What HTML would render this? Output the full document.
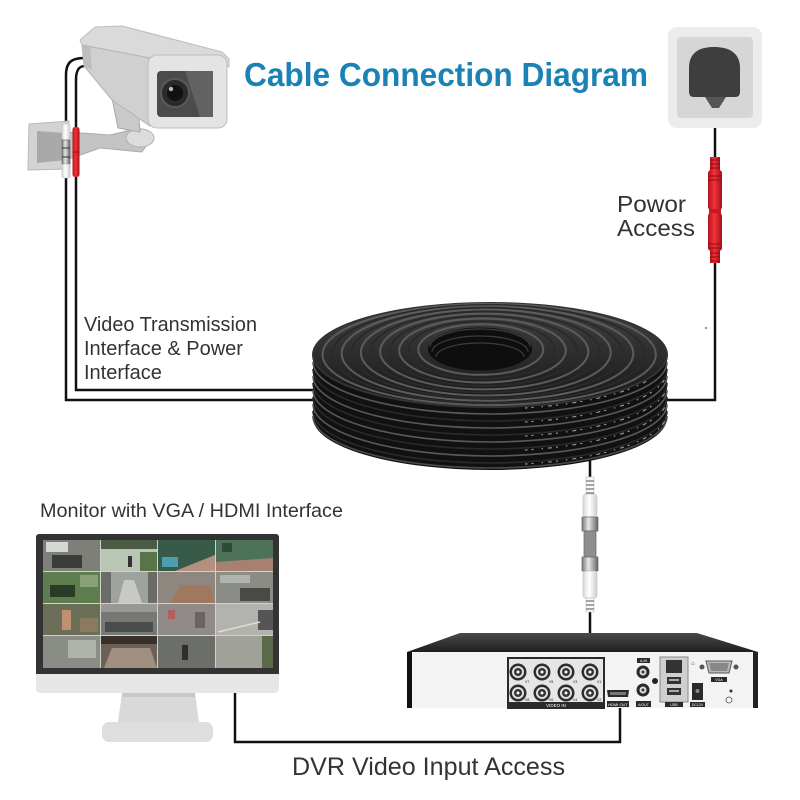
<!DOCTYPE html>
<html><head><meta charset="utf-8"><style>html,body{margin:0;padding:0;background:#fff}svg{display:block}</style></head>
<body>
<svg width="800" height="800" viewBox="0 0 800 800" xmlns="http://www.w3.org/2000/svg" font-family="Liberation Sans, sans-serif">
<defs>
 <linearGradient id="coilTop" x1="0" y1="0" x2="0" y2="1"><stop offset="0" stop-color="#444"/><stop offset="1" stop-color="#151515"/></linearGradient>
 <linearGradient id="lid" x1="0" y1="0" x2="0" y2="1"><stop offset="0" stop-color="#4a4a4a"/><stop offset="1" stop-color="#1e1e1e"/></linearGradient>
 <linearGradient id="metal" x1="0" y1="0" x2="1" y2="0"><stop offset="0" stop-color="#777"/><stop offset="0.4" stop-color="#e8e8e8"/><stop offset="1" stop-color="#666"/></linearGradient>
 <linearGradient id="redg" x1="0" y1="0" x2="1" y2="0"><stop offset="0" stop-color="#b5121b"/><stop offset="0.45" stop-color="#f0333b"/><stop offset="1" stop-color="#a8101a"/></linearGradient>
 <linearGradient id="whiteg" x1="0" y1="0" x2="1" y2="0"><stop offset="0" stop-color="#d8d8d8"/><stop offset="0.45" stop-color="#ffffff"/><stop offset="1" stop-color="#cfcfcf"/></linearGradient>
 <clipPath id="mk"><rect x="525" y="380" width="140" height="100"/></clipPath>
</defs>

<!-- Title -->
<text x="244" y="86" font-size="33" font-weight="bold" fill="#1a82b5" textLength="404" lengthAdjust="spacingAndGlyphs">Cable Connection Diagram</text>

<!-- Connection wires -->
<g fill="none" stroke="#111" stroke-width="2.5">
 <path d="M84,58 C72,58 66,62 66,75 L66,400 L314,400"/>
 <path d="M85,66 C79,66 76,70 76,80 L76,390 L314,390"/>
 <path d="M715,108 L715,400 L667,400"/>
 <path d="M590,460 L590,668"/>
 <path d="M235,693 L235,742 L620,742 L620,700"/>
</g>

<!-- Camera -->
<g>
 <polygon points="29,124 69,121 70,169 28,170" fill="#d3d3d3" stroke="#b8b8b8"/>
 <polygon points="37,131 66,133 66,160 37,163" fill="#a9a9a9"/>
 <polygon points="66,132 110,135 140,128 150,140 142,152 100,148 66,160" fill="#c4c4c4" stroke="#aaa"/>
 <ellipse cx="140" cy="138" rx="14" ry="9" fill="#dcdcdc" stroke="#b0b0b0"/>
 <polygon points="112,98 138,104 140,132 118,128" fill="#c9c9c9" stroke="#aaa"/>
 <polygon points="95,27 122,26 222,52 229,59 229,67 150,58 82,45 80,40" fill="#dadada" stroke="#bdbdbd"/>
 <polygon points="82,45 160,60 160,122 150,126 112,100 84,66" fill="#d0d0d0" stroke="#b5b5b5"/>
 <polygon points="82,45 90,47 92,70 84,66" fill="#bdbdbd"/>
 <rect x="148" y="55" width="79" height="73" rx="9" fill="#e4e4e4" stroke="#bcbcbc"/>
 <rect x="157" y="71" width="56" height="46" rx="4" fill="#4b4b4b"/>
 <polygon points="185,71 213,71 213,117 200,117" fill="#626262"/>
 <circle cx="175" cy="93" r="14" fill="#2a2a2a" stroke="#5a5a5a" stroke-width="2"/>
 <circle cx="175" cy="93" r="8" fill="#111"/>
 <circle cx="171" cy="89" r="2.2" fill="#bbb"/>
</g>
<!-- camera wire connectors -->
<rect x="62" y="124" width="8" height="16" rx="2" fill="url(#whiteg)" stroke="#bbb" stroke-width="0.6"/>
<rect x="62" y="140" width="8" height="24" fill="url(#metal)" stroke="#666" stroke-width="0.6"/>
<line x1="62" y1="148" x2="70" y2="148" stroke="#333"/>
<line x1="62" y1="157" x2="70" y2="157" stroke="#333"/>
<rect x="62" y="164" width="8" height="14" rx="2" fill="url(#whiteg)" stroke="#bbb" stroke-width="0.6"/>
<rect x="72.5" y="127" width="7" height="50" rx="2.5" fill="url(#redg)"/>
<line x1="72.5" y1="152" x2="79.5" y2="152" stroke="#9a0e16"/>

<!-- Power outlet -->
<rect x="668" y="27" width="94" height="101" rx="9" fill="#ececec"/>
<rect x="677" y="37" width="76" height="81" rx="4" fill="#d6d6d6"/>
<path d="M689,92 L689,68 C689,52 700,47 714,47 C728,47 740,52 740,68 L740,92 Q740,97 735,97 L694,97 Q689,97 689,92 Z" fill="#3e3e3e"/>
<polygon points="705,97 726,97 719,108 712,108" fill="#555"/>
<!-- Power red connector -->
<g>
 <rect x="710" y="157" width="10" height="14" fill="url(#redg)"/>
 <rect x="708" y="170" width="14" height="40" rx="3" fill="url(#redg)"/>
 <rect x="709" y="209" width="12" height="5" fill="#c51a22"/>
 <rect x="708" y="213" width="14" height="38" rx="3" fill="url(#redg)"/>
 <rect x="710" y="250" width="10" height="13" fill="url(#redg)"/>
 <g stroke="#8a0c12" stroke-width="1">
  <line x1="710" y1="160" x2="720" y2="160"/><line x1="710" y1="164" x2="720" y2="164"/><line x1="710" y1="168" x2="720" y2="168"/>
  <line x1="708" y1="176" x2="722" y2="176"/><line x1="708" y1="180" x2="722" y2="180"/>
  <line x1="708" y1="244" x2="722" y2="244"/><line x1="708" y1="248" x2="722" y2="248"/>
  <line x1="710" y1="253" x2="720" y2="253"/><line x1="710" y1="257" x2="720" y2="257"/><line x1="710" y1="261" x2="720" y2="261"/>
 </g>
</g>
<circle cx="706" cy="328" r="1" fill="#777"/>

<!-- Labels -->
<g fill="#333">
 <text x="617" y="212" font-size="23" textLength="69" lengthAdjust="spacingAndGlyphs">Powor</text>
 <text x="617" y="236" font-size="23" textLength="78" lengthAdjust="spacingAndGlyphs">Access</text>
 <text x="84" y="331" font-size="20" textLength="173" lengthAdjust="spacingAndGlyphs">Video Transmission</text>
 <text x="84" y="355" font-size="20">Interface &amp; Power</text>
 <text x="84" y="379" font-size="20">Interface</text>
 <text x="40" y="517" font-size="19.5" textLength="303" lengthAdjust="spacingAndGlyphs">Monitor with VGA / HDMI Interface</text>
 <text x="292" y="775" font-size="25" textLength="273" lengthAdjust="spacingAndGlyphs">DVR Video Input Access</text>
</g>

<!-- Cable coil -->
<g>
 <ellipse cx="490" cy="418" rx="177" ry="52" fill="#111"/>
 <rect x="313" y="355" width="354" height="63" fill="#111"/>
 <g fill="none" stroke-width="1.6">
  <path d="M313,362 A177,52 0 0 0 667,362" stroke="#5a5a5a"/>
  <path d="M313,369 A177,52 0 0 0 667,369" stroke="#2a2a2a"/>
  <path d="M313,376 A177,52 0 0 0 667,376" stroke="#5a5a5a"/>
  <path d="M313,383 A177,52 0 0 0 667,383" stroke="#2a2a2a"/>
  <path d="M313,390 A177,52 0 0 0 667,390" stroke="#5a5a5a"/>
  <path d="M313,397 A177,52 0 0 0 667,397" stroke="#2a2a2a"/>
  <path d="M313,404 A177,52 0 0 0 667,404" stroke="#5a5a5a"/>
  <path d="M313,411 A177,52 0 0 0 667,411" stroke="#2a2a2a"/>
  <path d="M313,416 A177,52 0 0 0 667,416" stroke="#4a4a4a"/>
 </g>
 <g fill="none" stroke="#a8a8a8" stroke-width="1" stroke-dasharray="1.5 5 4 4 2 8" clip-path="url(#mk)">
  <path d="M313,357 A177,52 0 0 0 667,357"/>
  <path d="M313,371 A177,52 0 0 0 667,371"/>
  <path d="M313,385 A177,52 0 0 0 667,385"/>
  <path d="M313,399 A177,52 0 0 0 667,399"/>
  <path d="M313,413 A177,52 0 0 0 667,413"/>
 </g>
 <ellipse cx="490" cy="355" rx="177" ry="52" fill="url(#coilTop)"/>
 <g fill="none" stroke-width="2">
  <ellipse cx="490" cy="355" rx="177" ry="52" stroke="#333"/>
  <ellipse cx="489.2" cy="354.5" rx="166.6" ry="50.6" stroke="#5c5c5c"/>
  <ellipse cx="488.3" cy="354" rx="156.1" ry="49" stroke="#2a2a2a"/>
  <ellipse cx="487.5" cy="353.5" rx="145.8" ry="47.2" stroke="#5c5c5c"/>
  <ellipse cx="486.7" cy="353" rx="135.3" ry="45.2" stroke="#2a2a2a"/>
  <ellipse cx="485.8" cy="352.5" rx="124.9" ry="43" stroke="#5c5c5c"/>
  <ellipse cx="485" cy="352" rx="114.5" ry="40.5" stroke="#2a2a2a"/>
  <ellipse cx="484.2" cy="351.5" rx="104.1" ry="37.9" stroke="#5c5c5c"/>
  <ellipse cx="483.3" cy="351" rx="93.6" ry="35" stroke="#2a2a2a"/>
  <ellipse cx="482.5" cy="350.5" rx="83.3" ry="32" stroke="#5c5c5c"/>
  <ellipse cx="481.7" cy="350" rx="72.9" ry="28.7" stroke="#2a2a2a"/>
  <ellipse cx="480.8" cy="349.5" rx="62.5" ry="25.3" stroke="#5c5c5c"/>
 </g>
 <ellipse cx="480" cy="349" rx="52" ry="21.5" fill="#0e0e0e"/>
 <g fill="none" stroke="#3c3c3c" stroke-width="1.2">
  <path d="M430,347 A50,18 0 0 1 530,347"/>
  <path d="M432,352 A48,16 0 0 1 528,352"/>
  <path d="M436,357 A44,14 0 0 1 524,357"/>
 </g>
</g>

<!-- BNC assembly -->
<g>
 <rect x="586" y="477" width="8" height="18" fill="#f8f8f8" stroke="#bbb" stroke-width="0.6"/>
 <g stroke="#555" stroke-width="1"><line x1="586" y1="481" x2="594" y2="481"/><line x1="586" y1="485" x2="594" y2="485"/><line x1="586" y1="489" x2="594" y2="489"/><line x1="586" y1="493" x2="594" y2="493"/></g>
 <rect x="583" y="494" width="14" height="23" rx="3" fill="url(#whiteg)" stroke="#c6c6c6" stroke-width="0.7"/>
 <rect x="582" y="517" width="16" height="14" fill="url(#metal)" stroke="#666" stroke-width="0.7"/>
 <rect x="584" y="531" width="12" height="26" fill="#8e8e8e" stroke="#666" stroke-width="0.7"/>
 <rect x="582" y="557" width="16" height="14" fill="url(#metal)" stroke="#666" stroke-width="0.7"/>
 <rect x="583" y="571" width="14" height="27" rx="3" fill="url(#whiteg)" stroke="#c6c6c6" stroke-width="0.7"/>
 <rect x="586" y="598" width="8" height="14" fill="#f8f8f8" stroke="#bbb" stroke-width="0.6"/>
 <g stroke="#555" stroke-width="1"><line x1="586" y1="601" x2="594" y2="601"/><line x1="586" y1="605" x2="594" y2="605"/><line x1="586" y1="609" x2="594" y2="609"/></g>
</g>

<!-- Monitor -->
<g>
 <rect x="36" y="534" width="243" height="142" rx="3" fill="#333"/>
 <path d="M36,674 L279,674 L279,688 Q279,693 274,693 L41,693 Q36,693 36,688 Z" fill="#e6e6e6"/>
 <polygon points="122,693 195,693 199,722 118,722" fill="#d9d9d9"/>
 <rect x="122" y="693" width="73" height="4" fill="#c8c8c8"/>
 <rect x="102" y="722" width="111" height="20" rx="7" fill="#dedede"/>
 <rect x="43" y="540" width="230" height="128" fill="#cfd3c8"/>
 <!-- tiles row1 -->
 <rect x="43" y="540" width="57" height="31" fill="#7d7f78"/>
 <rect x="46" y="542" width="22" height="10" fill="#d4d8d3"/><rect x="52" y="555" width="30" height="13" fill="#3a3d38"/>
 <rect x="101" y="540" width="56" height="31" fill="#b9c6b5"/>
 <rect x="101" y="540" width="56" height="9" fill="#4c5c44"/><rect x="128" y="556" width="4" height="11" fill="#333"/><rect x="140" y="552" width="17" height="19" fill="#5a7448"/>
 <rect x="158" y="540" width="57" height="31" fill="#385a48"/>
 <polygon points="175,571 215,555 215,571" fill="#b58f80"/><rect x="162" y="557" width="16" height="10" fill="#4a9fb0"/>
 <rect x="216" y="540" width="57" height="31" fill="#4e7258"/>
 <polygon points="216,571 216,562 273,558 273,571" fill="#a88070"/><rect x="222" y="543" width="10" height="9" fill="#2f4a38"/>
 <!-- row2 -->
 <rect x="43" y="572" width="57" height="31" fill="#5f7e50"/>
 <rect x="50" y="585" width="25" height="12" fill="#2c3a28"/><rect x="80" y="575" width="18" height="12" fill="#8aa078"/>
 <rect x="101" y="572" width="56" height="31" fill="#9fa39e"/>
 <polygon points="118,603 124,580 134,580 142,603" fill="#c8c8c4"/><rect x="101" y="572" width="10" height="31" fill="#6a6c68"/><rect x="148" y="572" width="9" height="31" fill="#6a6c68"/>
 <rect x="158" y="572" width="57" height="31" fill="#8e8780"/>
 <polygon points="170,603 180,585 210,585 215,603" fill="#a07860"/>
 <rect x="216" y="572" width="57" height="31" fill="#8c8c86"/>
 <rect x="240" y="588" width="30" height="13" fill="#4a4a44"/><rect x="220" y="575" width="30" height="8" fill="#b0b4ae"/>
 <!-- row3 -->
 <rect x="43" y="604" width="57" height="31" fill="#6b6f5a"/>
 <rect x="62" y="610" width="9" height="20" fill="#c09070"/><rect x="80" y="618" width="18" height="14" fill="#8a7a60"/>
 <rect x="101" y="604" width="56" height="31" fill="#757874"/>
 <rect x="105" y="622" width="48" height="10" fill="#4a4e4a"/><rect x="101" y="604" width="56" height="8" fill="#9a9894"/>
 <rect x="158" y="604" width="57" height="31" fill="#908a88"/>
 <rect x="168" y="610" width="7" height="9" fill="#b06060"/><rect x="195" y="612" width="10" height="16" fill="#6a6462"/>
 <rect x="216" y="604" width="57" height="31" fill="#b2b2ae"/>
 <rect x="258" y="610" width="15" height="20" fill="#555"/><line x1="218" y1="632" x2="260" y2="622" stroke="#e0ddd0" stroke-width="1.5"/>
 <!-- row4 -->
 <rect x="43" y="636" width="57" height="32" fill="#8a8c86"/>
 <rect x="68" y="640" width="28" height="18" fill="#b0b2ac"/>
 <rect x="101" y="636" width="56" height="32" fill="#6e6058"/>
 <rect x="101" y="636" width="56" height="8" fill="#3a302a"/><polygon points="104,668 112,648 150,648 157,668" fill="#a09080"/>
 <rect x="158" y="636" width="57" height="32" fill="#6c6e6a"/>
 <rect x="182" y="645" width="6" height="15" fill="#2e2e2c"/>
 <rect x="216" y="636" width="57" height="32" fill="#a0a29a"/>
 <rect x="262" y="636" width="11" height="32" fill="#5a6a4a"/>
</g>

<!-- DVR -->
<g>
 <polygon points="460,633 697,633 758,652 407,652" fill="url(#lid)"/>
 <rect x="407" y="652" width="351" height="56" fill="#f3f3f3"/>
 <rect x="407" y="652" width="5" height="56" fill="#111"/>
 <rect x="753" y="652" width="5" height="56" fill="#222"/>
 <rect x="508" y="658" width="96" height="50" fill="#e6e6e6" stroke="#2a2a2a" stroke-width="2"/>
 <rect x="508" y="702" width="96" height="6" fill="#2a2a2a"/>
 <text x="556" y="707" font-size="4.5" fill="#fff" text-anchor="middle">VIDEO IN</text>
 <g>
  <g id="bnc">
   <circle cx="518" cy="672" r="8.5" fill="#2e2e2e"/><circle cx="518" cy="672" r="6" fill="#e0e0e0"/><circle cx="518" cy="672" r="4" fill="#333"/><circle cx="518" cy="672" r="1.5" fill="#fff"/>
  </g>
  <use href="#bnc" x="24"/><use href="#bnc" x="48"/><use href="#bnc" x="72"/>
  <use href="#bnc" y="21"/><use href="#bnc" x="24" y="21"/><use href="#bnc" x="48" y="21"/><use href="#bnc" x="72" y="21"/>
 </g>
 <g font-size="3.5" fill="#222">
  <text x="525" y="683">V7</text><text x="549" y="683">V5</text><text x="573" y="683">V3</text><text x="597" y="683">V1</text>
  <text x="525" y="701">V8</text><text x="549" y="701">V6</text><text x="573" y="701">V4</text><text x="597" y="701">V2</text>
 </g>
 <polygon points="607,690 629,690 628,697 608,697" fill="#2a2a2a"/>
 <rect x="610" y="692" width="16" height="3" fill="#777"/>
 <rect x="607" y="701" width="22" height="6" fill="#2a2a2a"/>
 <text x="618" y="706" font-size="4" fill="#fff" text-anchor="middle">HDMI OUT</text>
 <rect x="637" y="658" width="13" height="5" fill="#2a2a2a"/>
 <text x="643.5" y="662" font-size="3.5" fill="#fff" text-anchor="middle">A-IN</text>
 <circle cx="643" cy="672" r="6.5" fill="#2a2a2a"/><circle cx="643" cy="672" r="3.5" fill="#ddd"/><circle cx="643" cy="672" r="1.5" fill="#333"/>
 <circle cx="655" cy="681" r="3" fill="#222"/>
 <circle cx="643" cy="690" r="6.5" fill="#2a2a2a"/><circle cx="643" cy="690" r="3.5" fill="#ddd"/><circle cx="643" cy="690" r="1.5" fill="#333"/>
 <rect x="636" y="701" width="15" height="6" fill="#2a2a2a"/>
 <text x="643.5" y="706" font-size="3.5" fill="#fff" text-anchor="middle">A/OUT</text>
 <rect x="660" y="657" width="28" height="45" fill="#cfcfcf" stroke="#888"/>
 <rect x="666" y="660" width="16" height="13" fill="#333"/>
 <rect x="667" y="677" width="14" height="7" fill="#333"/><rect x="669" y="679" width="10" height="2" fill="#aaa"/>
 <rect x="667" y="688" width="14" height="7" fill="#333"/><rect x="669" y="690" width="10" height="2" fill="#aaa"/>
 <rect x="665" y="702" width="18" height="5" fill="#2a2a2a"/>
 <text x="674" y="706" font-size="3.5" fill="#fff" text-anchor="middle">USB</text>
 <rect x="692" y="683" width="11" height="17" fill="#2a2a2a"/><circle cx="697.5" cy="691" r="2" fill="#888"/>
 <rect x="690" y="702" width="15" height="5" fill="#2a2a2a"/>
 <text x="697.5" y="706" font-size="3.5" fill="#fff" text-anchor="middle">DC12V</text>
 <circle cx="702" cy="667" r="2.5" fill="#555"/><circle cx="736" cy="667" r="2.5" fill="#555"/>
 <polygon points="706,661 732,661 729,673 709,673" fill="#bbb" stroke="#555"/>
 <polygon points="709,663 729,663 727,671 711,671" fill="#888"/>
 <rect x="711" y="677" width="16" height="5" fill="#2a2a2a"/>
 <text x="719" y="681" font-size="3.5" fill="#fff" text-anchor="middle">VGA</text>
 <text x="691" y="665" font-size="6" fill="#333">&#8962;</text>
 <circle cx="731" cy="691" r="1.5" fill="#333"/>
 <circle cx="729" cy="700" r="3" fill="none" stroke="#555" stroke-width="0.8"/>
</g>
</svg>
</body></html>
